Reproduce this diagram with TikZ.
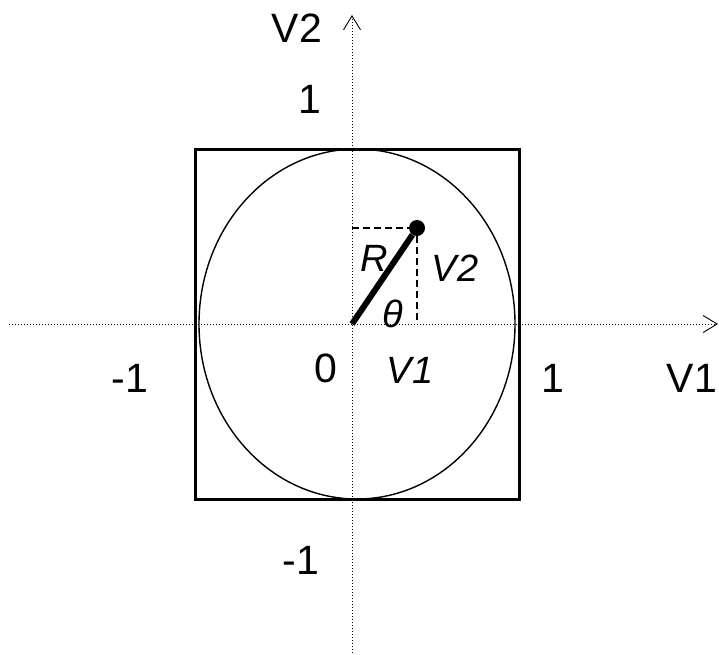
\documentclass[tikz,border=0pt]{standalone}
\usepackage{fontspec}
\setmainfont{Liberation Sans}
\usepackage{tikz}
\usetikzlibrary{arrows.meta,positioning,calc}

\begin{document}
\begin{tikzpicture}[x=1pt, y=-1pt]
  \tikzstyle{axis} = [line width=0.9pt, dash pattern=on 1pt off 2pt, -{Straight Barb[length=14pt,width=17pt,line width=0.9pt]}]
  \tikzstyle{lbl} = [font=\fontsize{41}{48}\selectfont, inner sep=0pt]
  \tikzstyle{ilbl} = [font=\fontsize{38}{44}\selectfont\itshape, inner sep=0pt]
  \tikzstyle{guide} = [line width=1.4pt, dash pattern=on 7pt off 4pt]
  \useasboundingbox (0,0) rectangle (719,654);

  % axes
  \coordinate (orig) at (352,324);
  \coordinate (xleft) at (9,324);
  \coordinate (xright) at (718,324);
  \coordinate (ybottom) at (352,653);
  \coordinate (ytop) at (352,15);
  \draw[axis] (xleft) -- (xright);
  \draw[axis] (ybottom) -- (ytop);

  % square and circle
  \draw[line width=3pt] (195,149) rectangle (519,499);
  \draw[line width=1.4pt] (357,324) ellipse [x radius=158, y radius=175];

  % point, radius and its parts
  \node[circle, fill=black, inner sep=0pt, minimum size=16pt] (pt) at (417,228) {};
  \draw[guide] (orig |- pt) -- (pt);
  \draw[guide] (pt) -- (pt |- orig);
  \draw[line width=6pt] (orig) -- (pt);

  % labels
  \node[lbl] (labV2) at (297,28) {V2};
  \node[lbl] (labTop) at (310,99) {1};
  \node[lbl] (labLeft) at (130,378) {-1};
  \node[lbl] (labZero) at (326,368) {0};
  \node[lbl] (labRight) at (553,378) {1};
  \node[lbl] (labV1) at (692,378) {V1};
  \node[lbl] (labBottom) at (301,560) {-1};
  \node[ilbl] (labR) at (374,258) {R};
  \node[ilbl] (labPy) at (455,268) {V2};
  \node[ilbl] (labPx) at (410,370) {V1};
  \node[ilbl] (labTheta) at (393,314) {θ};
\end{tikzpicture}
\end{document}
